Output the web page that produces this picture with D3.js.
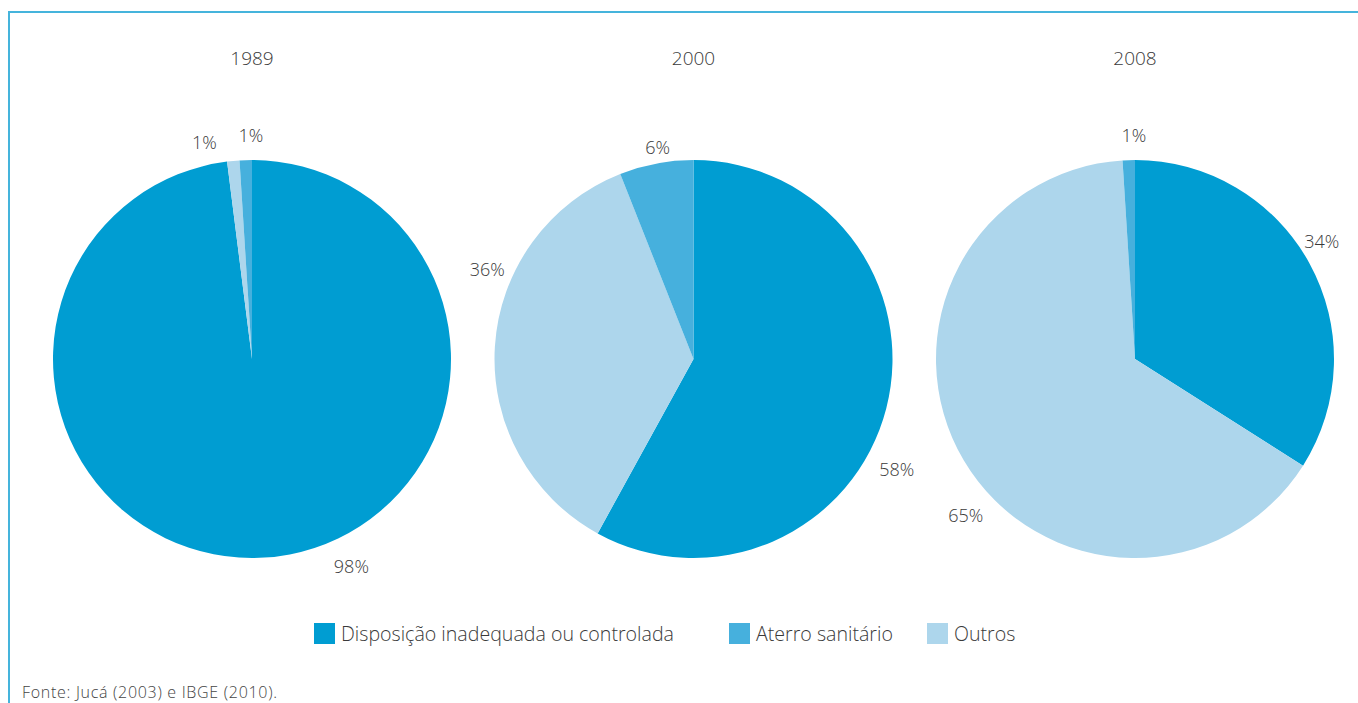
<!DOCTYPE html>
<html>
<head>
<meta charset="utf-8">
<script src="https://cdn.jsdelivr.net/npm/d3@7/dist/d3.min.js"></script>
<style>
  html, body { margin: 0; padding: 0; background: #fff; }
  svg { display: block; font-family: "Open Sans", Lato, sans-serif; font-weight: 300; }
</style>
</head>
<body>
<svg id="chart" width="1358" height="703"></svg>
<script>
// Destinação dos resíduos sólidos, em % (fonte: Jucá 2003 e IBGE 2010)
const years = ["1989", "2000", "2008"];
const categories = ["Disposição inadequada ou controlada", "Outros", "Aterro sanitário"];
const disposicao = [98, 58, 34];
const outros = [1, 36, 65];
const aterro = [1, 6, 1];
const legendOrder = ["Disposição inadequada ou controlada", "Aterro sanitário", "Outros"];
const sourceNote = "Fonte: Jucá (2003) e IBGE (2010).";

// Label angle nudges (degrees) relative to each slice's mid-angle
const labelNudge = [
  [-22, -7, 1.5],
  [14, 20, 1.2],
  [-3.5, -12, 1.5]
];
const labelRadius = [
  [230, 222, 224],
  [231, 225, 215],
  [221, 230, 224]
];

const W = 1358, H = 703;
const svg = d3.select("#chart");

const color = d3.scaleOrdinal()
  .domain(["Disposição inadequada ou controlada", "Aterro sanitário", "Outros"])
  .range(["#009dd2", "#46b0dd", "#add6ec"]);

// Frame
svg.append("line").attr("x1", 9).attr("x2", W).attr("y1", 12).attr("y2", 12)
  .attr("stroke", "#45b4dc").attr("stroke-width", 2);
svg.append("line").attr("x1", 9).attr("x2", 9).attr("y1", 11).attr("y2", H)
  .attr("stroke", "#45b4dc").attr("stroke-width", 2);

const x = d3.scalePoint().domain(years).range([252, 1135]);
const cy = 359;
const radius = 199;

const pie = d3.pie().sort(null).value(d => d.value);
const arc = d3.arc().innerRadius(0).outerRadius(radius);

years.forEach((yr, i) => {
  const rows = [
    { cat: categories[0], value: disposicao[i] },
    { cat: categories[1], value: outros[i] },
    { cat: categories[2], value: aterro[i] }
  ];
  const g = svg.append("g").attr("transform", `translate(${x(yr)},${cy})`);
  const arcs = pie(rows);

  g.selectAll("path").data(arcs).join("path")
    .attr("d", arc)
    .attr("fill", d => color(d.data.cat));

  g.selectAll("text.val").data(arcs).join("text")
    .attr("class", "val")
    .attr("x", (d, j) => {
      const a = (d.startAngle + d.endAngle) / 2 + labelNudge[i][j] * Math.PI / 180;
      return Math.sin(a) * labelRadius[i][j];
    })
    .attr("y", (d, j) => {
      const a = (d.startAngle + d.endAngle) / 2 + labelNudge[i][j] * Math.PI / 180;
      return -Math.cos(a) * labelRadius[i][j];
    })
    .attr("text-anchor", "middle")
    .attr("dominant-baseline", "central")
    .attr("font-size", 18)
    .attr("fill", "#3a3a3a")
    .text(d => d.data.value + "%");

  svg.append("text")
    .attr("x", x(yr)).attr("y", 65)
    .attr("text-anchor", "middle")
    .attr("font-size", 19)
    .attr("fill", "#3a3a3a")
    .text(yr);
});

// Legend
const legendX = [314, 729, 927];
legendOrder.forEach((name, k) => {
  const lg = svg.append("g").attr("transform", `translate(${legendX[k]},623)`);
  lg.append("rect").attr("width", 21).attr("height", 21).attr("fill", color(name));
  lg.append("text").attr("x", 27).attr("y", 17.5)
    .attr("font-size", 19.6)
    .attr("fill", "#3a3a3a").text(name);
});

// Source
svg.append("text").attr("x", 22).attr("y", 698)
  .attr("font-size", 16).attr("letter-spacing", 0.7)
  .attr("fill", "#444").text(sourceNote);
</script>
</body>
</html>
